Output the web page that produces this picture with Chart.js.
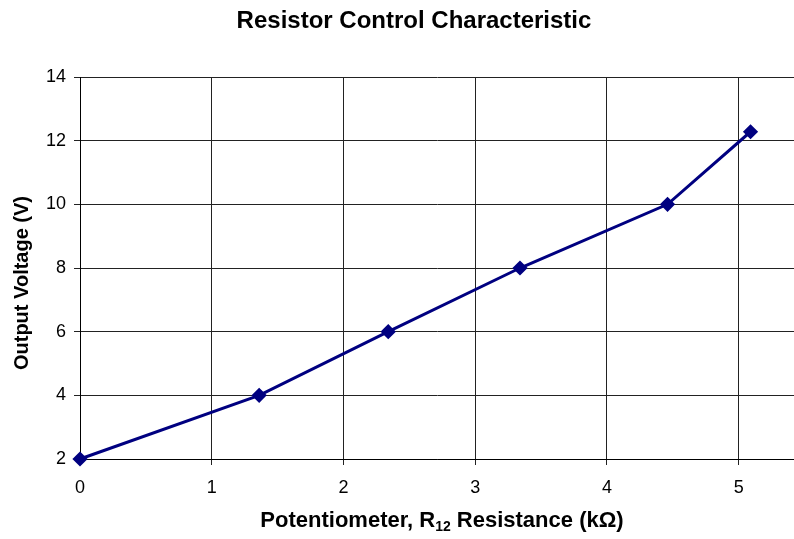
<!DOCTYPE html>
<html>
<head>
<meta charset="utf-8">
<script src="https://cdn.jsdelivr.net/npm/chart.js@4/dist/chart.umd.min.js"></script>
<style>
  html, body { margin: 0; padding: 0; background: #fff; }
  #wrap { width: 794px; height: 539px; }
</style>
</head>
<body>
<div id="wrap"><canvas id="chart" width="794" height="539"></canvas></div>
<script>
// data
const resistance = [0, 1.36, 2.34, 3.34, 4.46, 5.09];   // kOhm
const voltage = [2, 4, 6, 8, 10, 12.28];                // V
const chartTitle = 'Resistor Control Characteristic';
const yTitle = 'Output Voltage (V)';

const FONT = 'Arial, "Liberation Sans", sans-serif';

// titles drawn as text on the canvas (x title needs a subscript)
const textPlugin = {
  id: 'texts',
  afterDraw(chart) {
    const ctx = chart.ctx;
    ctx.save();
    ctx.fillStyle = '#000';
    ctx.textBaseline = 'middle';
    ctx.textAlign = 'center';
    ctx.font = 'bold 24px ' + FONT;
    ctx.fillText(chartTitle, 414, 21);

    // y title, rotated
    ctx.save();
    ctx.translate(22, 283);
    ctx.rotate(-Math.PI / 2);
    ctx.font = 'bold 20px ' + FONT;
    ctx.fillText(yTitle, 0, 0);
    ctx.restore();

    // "Potentiometer, R12 Resistance (kΩ)"
    const a = 'Potentiometer, R', sub = '12', b = ' Resistance (k\u03A9)';
    ctx.font = 'bold 22px ' + FONT;
    const wa = ctx.measureText(a).width, wb = ctx.measureText(b).width;
    ctx.font = 'bold 14px ' + FONT;
    const ws = ctx.measureText(sub).width;
    let x = 442 - (wa + ws + wb) / 2;
    const y = 521;
    ctx.textAlign = 'left';
    ctx.font = 'bold 22px ' + FONT;
    ctx.fillText(a, x, y);
    x += wa;
    ctx.font = 'bold 14px ' + FONT;
    ctx.fillText(sub, x, y + 6);
    x += ws;
    ctx.font = 'bold 22px ' + FONT;
    ctx.fillText(b, x, y);
    ctx.restore();
  }
};

new Chart(document.getElementById('chart'), {
  type: 'scatter',
  data: {
    datasets: [{
      data: resistance.map((r, i) => ({ x: r, y: voltage[i] })),
      showLine: true,
      clip: false,
      borderColor: '#000080',
      backgroundColor: '#000080',
      borderWidth: 3,
      pointStyle: 'rectRot',
      pointRadius: 5.5,
      pointHoverRadius: 5.5,
      tension: 0
    }]
  },
  options: {
    responsive: false,
    animation: false,
    layout: { autoPadding: false, padding: { top: 77, left: 0, right: 0, bottom: 0 } },
    plugins: {
      legend: { display: false },
      title: { display: false },
      tooltip: { enabled: false }
    },
    scales: {
      x: {
        type: 'linear',
        min: 0,
        max: 5.42,
        border: { color: '#000', width: 1 },
        grid: { color: '#222', lineWidth: 1, tickLength: 6 },
        ticks: {
          stepSize: 1,
          includeBounds: false,
          padding: 12,
          color: '#000',
          font: { family: FONT, size: 18 }
        },
        afterFit(s) { s.height = 80; }
      },
      y: {
        min: 2,
        max: 14,
        border: { color: '#000', width: 1 },
        grid: { color: '#222', lineWidth: 1, tickLength: 6 },
        ticks: {
          stepSize: 2,
          padding: 8,
          color: '#000',
          font: { family: FONT, size: 18 }
        },
        afterFit(s) { s.width = 80; }
      }
    }
  },
  plugins: [textPlugin]
});
</script>
</body>
</html>
